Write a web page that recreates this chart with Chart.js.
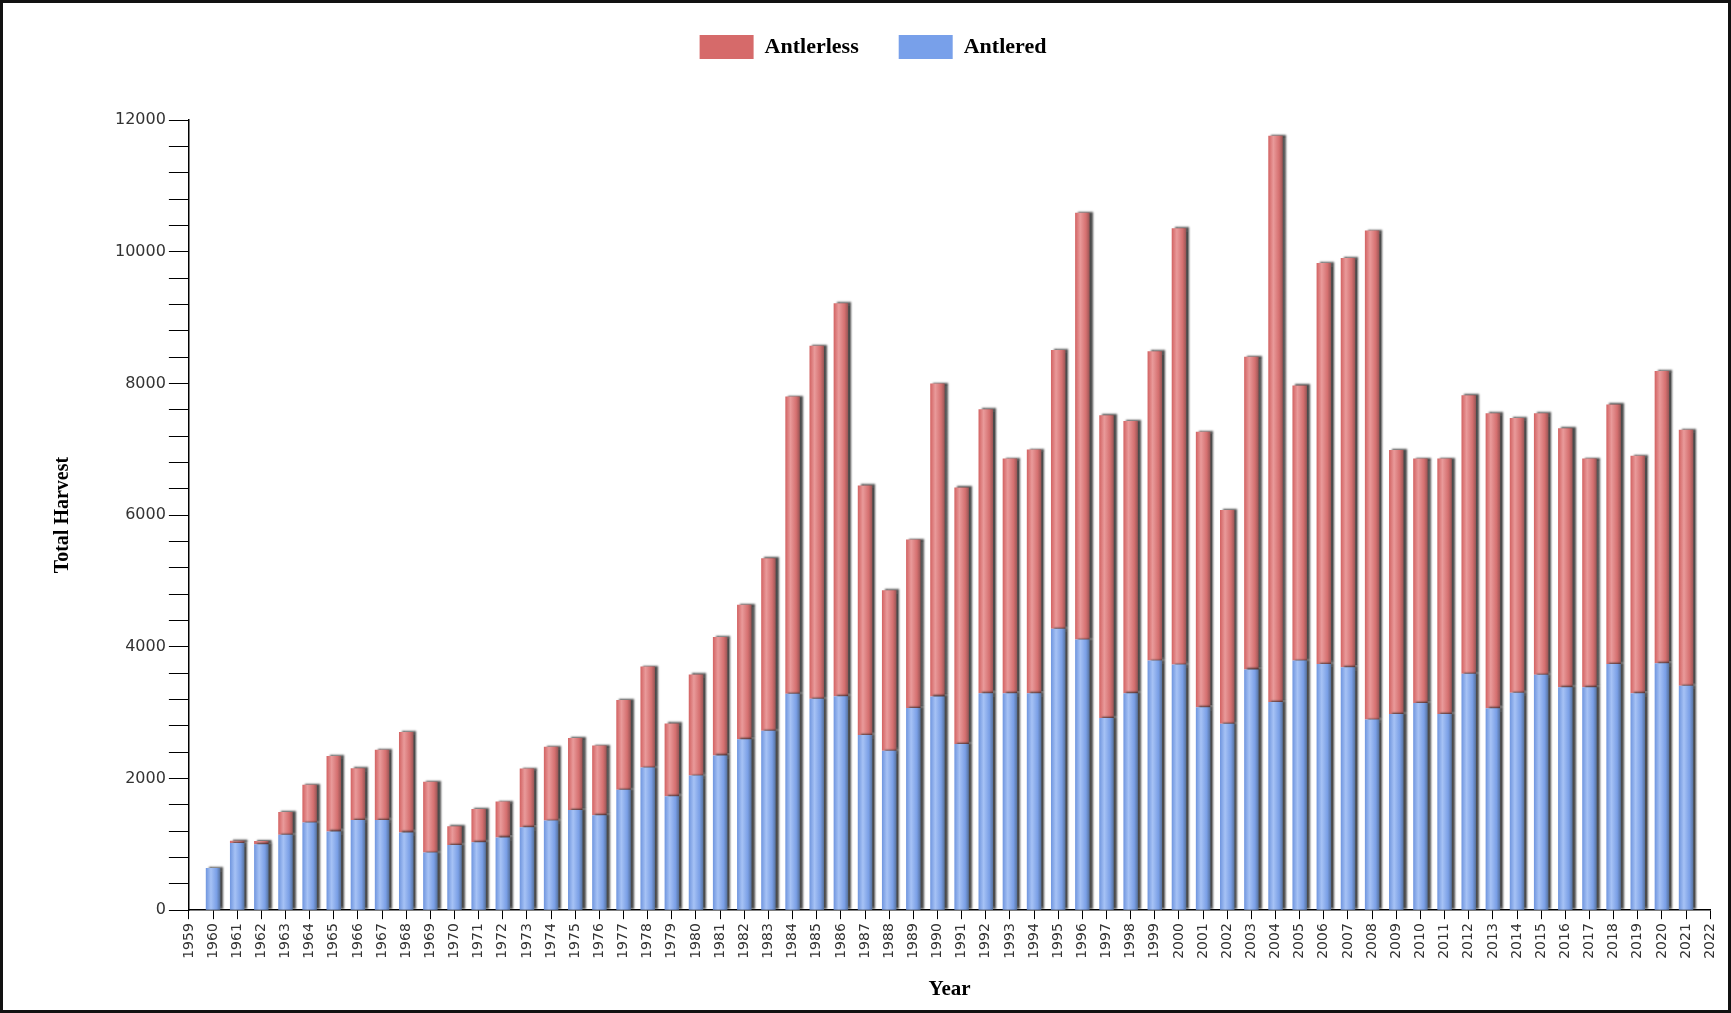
<!DOCTYPE html>
<html>
<head>
<meta charset="utf-8">
<title>Total Harvest</title>
<script src="https://cdn.jsdelivr.net/npm/chart.js@4.4.1/dist/chart.umd.min.js"></script>
<style>
  body { margin: 0; background: #fff; }
  #harvestChart { position: absolute; left: 0; top: 0; }
  #frame {
    position: absolute; left: 0; top: 0;
    width: 1731px; height: 1013px;
    box-sizing: border-box;
    border: 3px solid #111;
    pointer-events: none;
  }
</style>
</head>
<body>
<canvas id="harvestChart" width="1731" height="1013"></canvas>
<div id="frame"></div>
<script>
// Années de la saison de chasse
const YEARS = [
  1960, 1961, 1962, 1963, 1964, 1965, 1966, 1967, 1968, 1969,
  1970, 1971, 1972, 1973, 1974, 1975, 1976, 1977, 1978, 1979,
  1980, 1981, 1982, 1983, 1984, 1985, 1986, 1987, 1988, 1989,
  1990, 1991, 1992, 1993, 1994, 1995, 1996, 1997, 1998, 1999,
  2000, 2001, 2002, 2003, 2004, 2005, 2006, 2007, 2008, 2009,
  2010, 2011, 2012, 2013, 2014, 2015, 2016, 2017, 2018, 2019,
  2020, 2021,
];

// Prélèvement des mâles (bois)
const ANTLERED = [
  640, 1020, 1000, 1145, 1330, 1195, 1370, 1370, 1180, 875,
  990, 1030, 1105, 1260, 1360, 1520, 1440, 1830, 2165, 1730,
  2045, 2350, 2595, 2725, 3285, 3210, 3250, 2660, 2420, 3070,
  3245, 2525, 3295, 3295, 3295, 4275, 4110, 2920, 3295, 3790,
  3730, 3080, 2830, 3655, 3160, 3790, 3740, 3690, 2895, 2980,
  3145, 2980, 3590, 3065, 3300, 3575, 3385, 3385, 3740, 3295,
  3750, 3410,
];

// Prélèvement sans bois
const ANTLERLESS = [
  0, 35, 50, 345, 575, 1145, 785, 1065, 1525, 1075,
  285, 505, 545, 890, 1120, 1095, 1060, 1360, 1535, 1105,
  1535, 1800, 2045, 2620, 4515, 5360, 5966, 3790, 2440, 2558,
  4753, 3895, 4313, 3563, 3701, 4233, 6480, 4598, 4133, 4700,
  6626, 4186, 3248, 4751, 8600, 4178, 6088, 6216, 7425, 4010,
  3713, 3878, 4228, 4483, 4176, 3973, 3935, 3473, 3940, 3605,
  4440, 3886,
];

// Bornes des axes
const X_MIN = 1959;
const X_MAX = 2022;
const Y_MAX = 12000;
const Y_STEP = 400;
const Y_LABEL_STEP = 2000;

const RED = "#d66a6a";
const BLUE = "#78a0ea";

// Dégradé horizontal pour donner un effet cylindrique aux barres
function barFill(stops, fallback) {
  return function (context) {
    const chart = context.chart;
    const xScale = chart.scales && chart.scales.x;
    if (!chart.chartArea || !xScale || context.type !== "data") return fallback;
    const center = xScale.getPixelForValue(context.raw.x);
    const half = (xScale.width / (X_MAX - X_MIN)) * 0.3;
    if (!isFinite(center) || !isFinite(half)) return fallback;
    const g = chart.ctx.createLinearGradient(center - half, 0, center + half, 0);
    g.addColorStop(0, stops[0]);
    g.addColorStop(0.35, stops[1]);
    g.addColorStop(0.75, stops[2]);
    g.addColorStop(1, stops[3]);
    return g;
  };
}

// Ombre portée sous les barres
const barShadow = {
  id: "barShadow",
  beforeDatasetsDraw(chart) {
    const ctx = chart.ctx;
    ctx.save();
    ctx.shadowColor = "rgba(30,30,30,0.8)";
    ctx.shadowOffsetX = 3;
    ctx.shadowOffsetY = -1;
    ctx.shadowBlur = 2;
  },
  afterDatasetsDraw(chart) {
    chart.ctx.restore();
  },
};

// Espace supplémentaire sous la légende, légende remontée un peu
const legendMargin = {
  id: "legendMargin",
  beforeInit(chart) {
    const legend = chart.legend;
    const fit = legend.fit;
    legend.fit = function () {
      fit.call(this);
      this.height += 46;
    };
    const draw = legend.draw;
    legend.draw = function () {
      this.ctx.save();
      this.ctx.translate(0, -5);
      draw.call(this);
      this.ctx.restore();
    };
  },
};

const ctx = document.getElementById("harvestChart").getContext("2d");

new Chart(ctx, {
  type: "bar",
  data: {
    datasets: [
      {
        label: "Antlered",
        data: YEARS.map((y, i) => ({ x: y, y: ANTLERED[i] })),
        backgroundColor: barFill(["#6f95de", "#a6c2f5", "#7a9fe6", "#56729f"], BLUE),
        borderWidth: 0,
        categoryPercentage: 1,
        barPercentage: 0.6,
      },
      {
        label: "Antlerless",
        data: YEARS.map((y, i) => ({ x: y, y: ANTLERLESS[i] })),
        backgroundColor: barFill(["#d26262", "#e99a9a", "#d57070", "#9a5555"], RED),
        borderWidth: 0,
        categoryPercentage: 1,
        barPercentage: 0.6,
      },
    ],
  },
  options: {
    responsive: false,
    animation: false,
    layout: {
      padding: { left: 25, right: 10, top: 0, bottom: 11 },
    },
    plugins: {
      tooltip: { enabled: false },
      legend: {
        position: "top",
        labels: {
          boxWidth: 54,
          boxHeight: 24,
          padding: 40,
          color: "#000",
          useBorderRadius: true,
          borderRadius: 4,
          font: { family: "'Liberation Serif', 'Times New Roman', serif", size: 22, weight: "bold" },
          generateLabels: () => [
            { text: "Antlerless", fillStyle: RED, strokeStyle: RED, lineWidth: 0, datasetIndex: 1 },
            { text: "Antlered", fillStyle: BLUE, strokeStyle: BLUE, lineWidth: 0, datasetIndex: 0 },
          ],
        },
      },
    },
    scales: {
      x: {
        type: "linear",
        stacked: true,
        offset: false,
        min: X_MIN,
        max: X_MAX,
        grid: {
          drawOnChartArea: false,
          offset: false,
          color: "#000",
          tickLength: 9,
        },
        border: { color: "#000", width: 1.5 },
        ticks: {
          stepSize: 1,
          autoSkip: false,
          minRotation: 90,
          maxRotation: 90,
          padding: 4,
          color: "#333",
          font: { family: "'DejaVu Sans', sans-serif", size: 14 },
          callback: (v) => String(v),
        },
        title: {
          display: true,
          text: "Year",
          color: "#000",
          padding: { top: 14, bottom: 0 },
          font: { family: "'Liberation Serif', 'Times New Roman', serif", size: 21, weight: "bold" },
        },
      },
      y: {
        stacked: true,
        min: 0,
        max: Y_MAX,
        grid: {
          drawOnChartArea: false,
          color: "#000",
          tickLength: 20,
        },
        border: { color: "#000", width: 1.5 },
        ticks: {
          stepSize: Y_STEP,
          autoSkip: false,
          padding: 3,
          color: "#333",
          font: { family: "'DejaVu Sans', sans-serif", size: 16 },
          callback: (v) => (v % Y_LABEL_STEP === 0 ? String(v) : ""),
        },
        title: {
          display: true,
          text: "Total Harvest",
          color: "#000",
          padding: { top: 26, bottom: 37 },
          font: { family: "'Liberation Serif', 'Times New Roman', serif", size: 20, weight: "bold" },
        },
      },
    },
  },
  plugins: [barShadow, legendMargin],
});
</script>
</body>
</html>
